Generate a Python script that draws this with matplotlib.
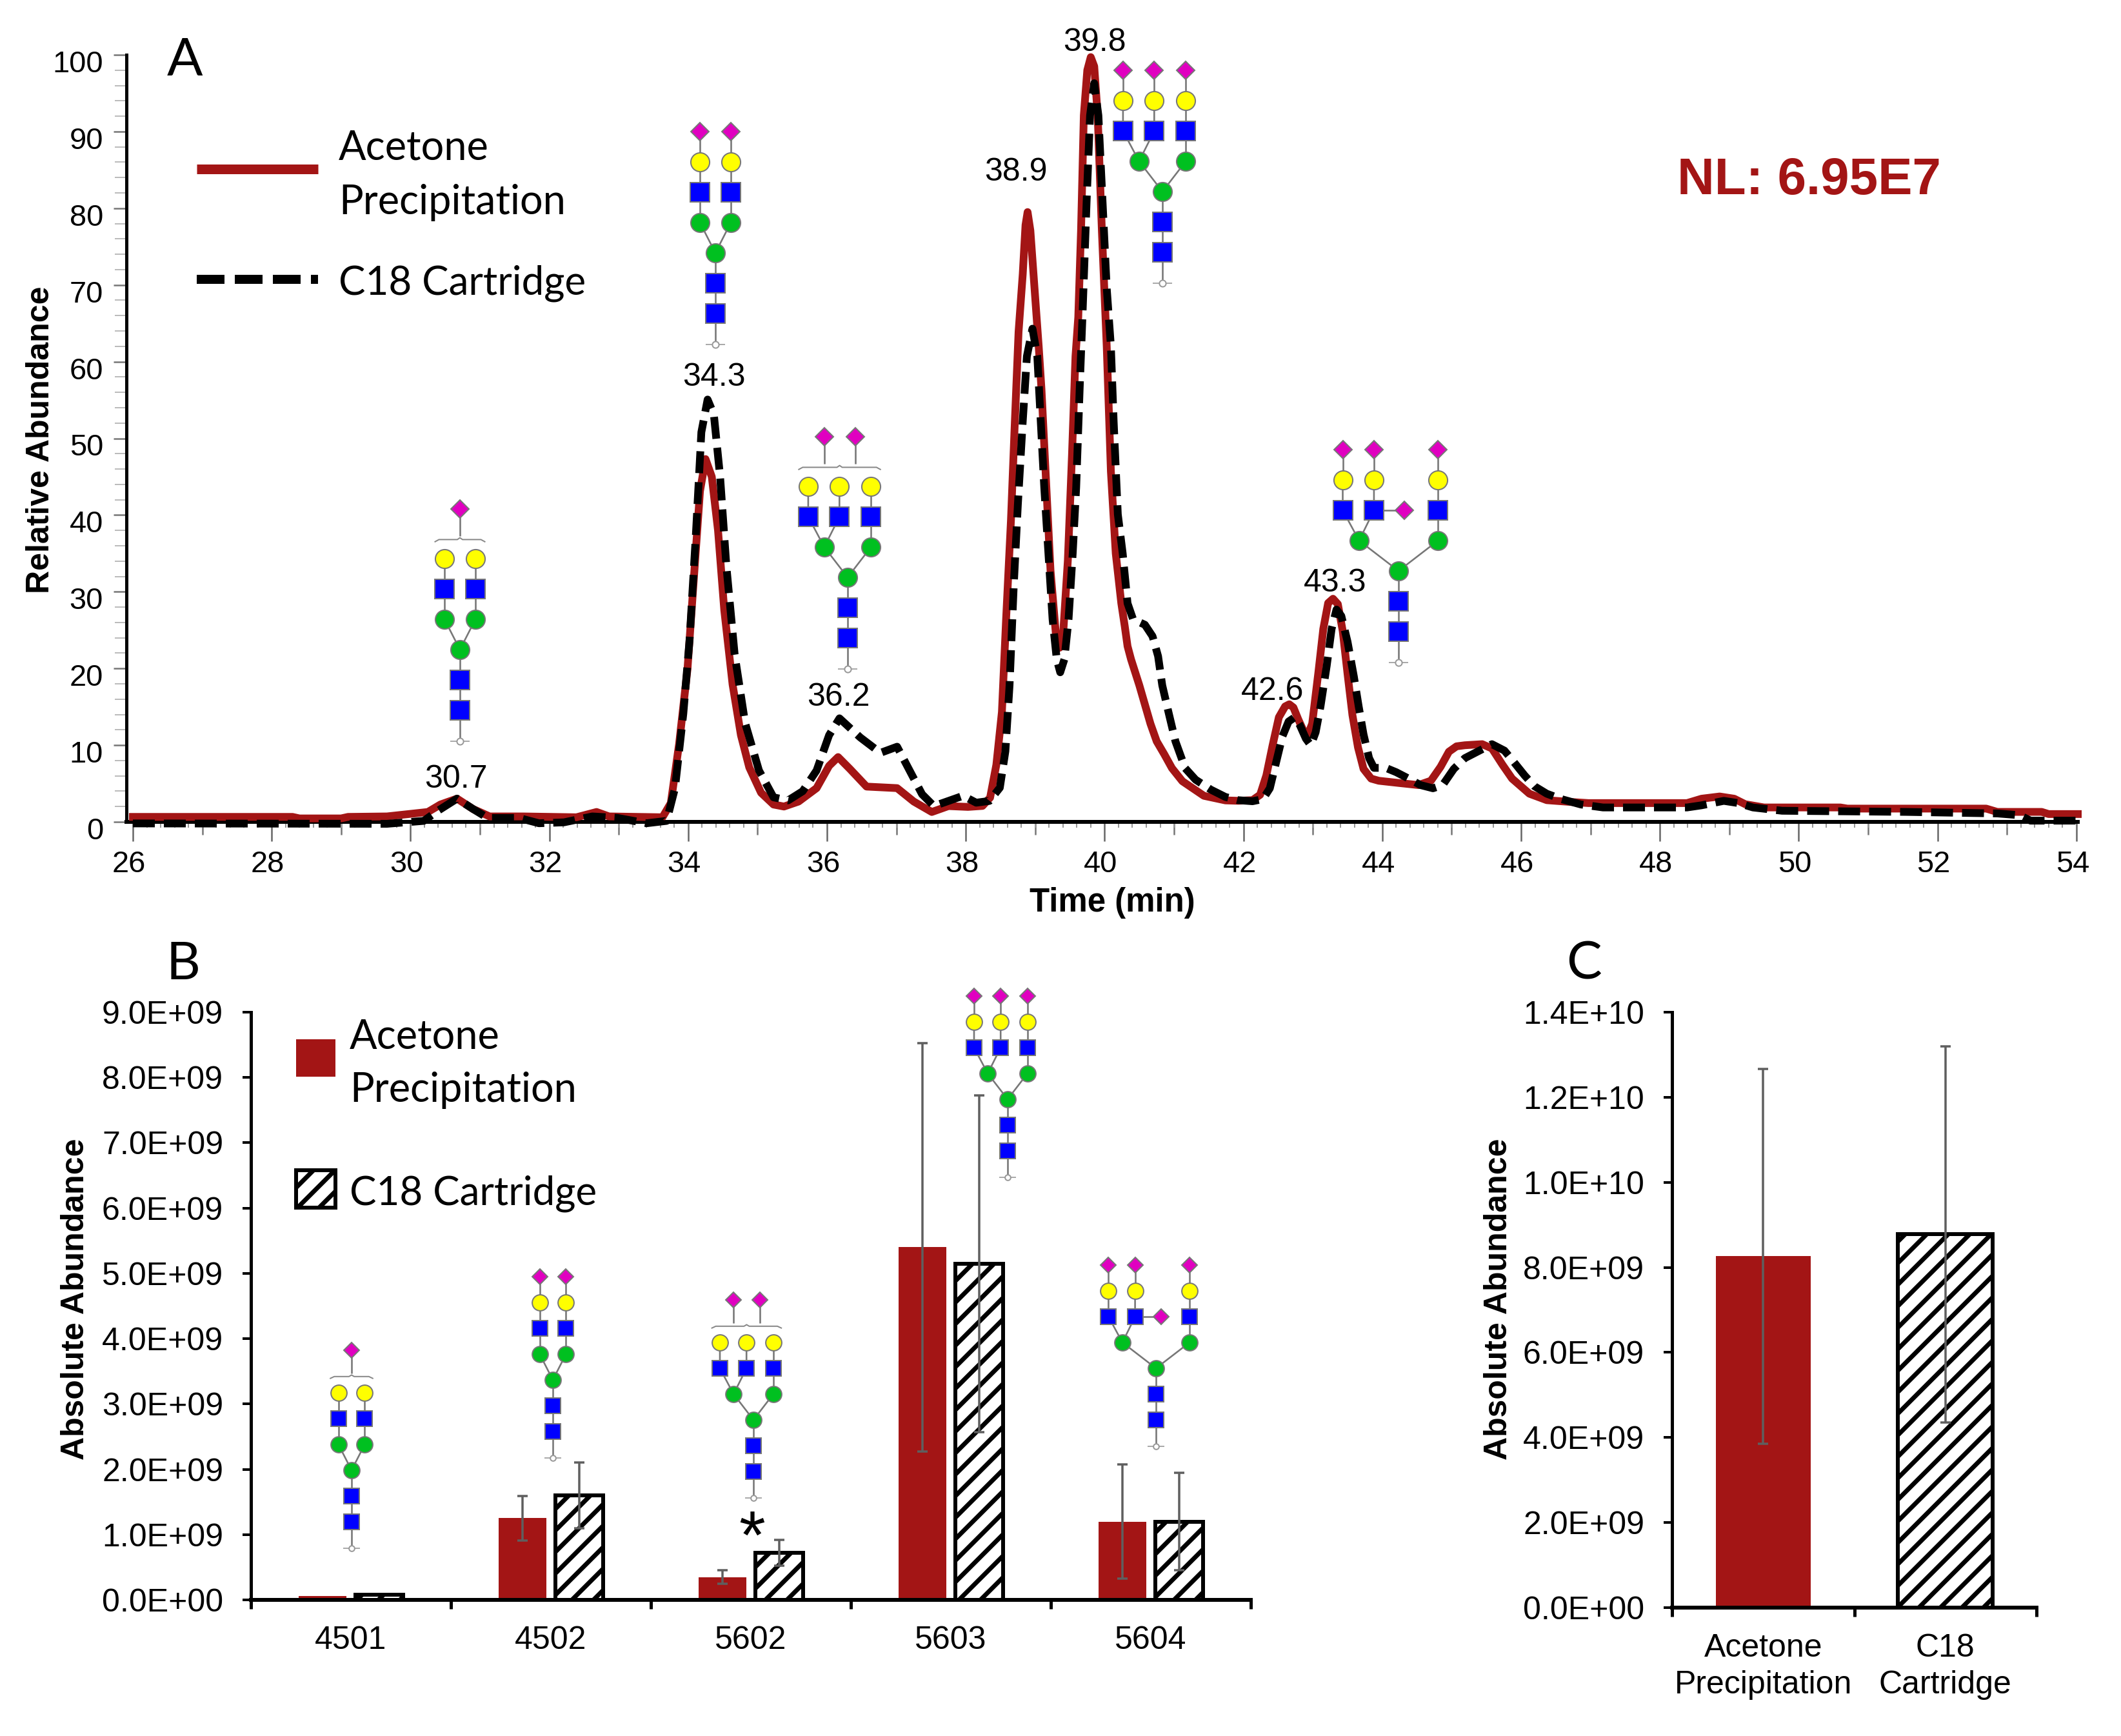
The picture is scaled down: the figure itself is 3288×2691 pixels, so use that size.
import matplotlib
matplotlib.use('Agg')
import matplotlib.pyplot as plt
import matplotlib.transforms as mtransforms
from matplotlib.patches import Rectangle

W, H = 3288, 2691
DPI = 200
RED = '#a31515'
ARIAL = 'Liberation Sans'
CALIBRI = 'Lato'

plt.rcParams['font.family'] = [ARIAL, 'DejaVu Sans']
plt.rcParams['lines.scale_dashes'] = False


def px(n):
    return n * 72 / DPI


plt.rcParams['hatch.linewidth'] = px(7)

# panel A
acetone_t = [26, 28.3, 28.4, 29, 29.1, 29.66, 30.25, 30.43, 30.67, 30.9, 31.14, 31.62, 32.39, 32.68, 32.86, 33.63,
             33.75, 33.87, 33.99, 34.08, 34.17, 34.25, 34.34, 34.43, 34.52, 34.64, 34.76, 34.88, 35.05, 35.23, 35.38,
             35.59, 35.85, 36.03, 36.16, 36.33, 36.57, 37.01, 37.25, 37.51, 37.75, 38.03, 38.24, 38.35, 38.44, 38.52,
             38.58, 38.65, 38.70, 38.76, 38.82, 38.86, 38.89, 38.93, 38.99, 39.05, 39.09, 39.16, 39.22, 39.30, 39.35,
             39.40, 39.47, 39.53, 39.58, 39.62, 39.66, 39.70, 39.75, 39.80, 39.85, 39.90, 39.96, 40.03, 40.09, 40.16,
             40.24, 40.29, 40.33, 40.38, 40.44, 40.50, 40.57, 40.66, 40.75, 40.86, 40.97, 41.12, 41.43, 41.74, 41.92,
             42.13, 42.24, 42.33, 42.42, 42.51,
             42.60, 42.66, 42.72, 42.79, 42.86, 42.93, 42.99, 43.08, 43.15, 43.22, 43.29, 43.36, 43.43, 43.50, 43.57,
             43.65, 43.73, 43.84, 43.95, 44.23, 44.52, 44.70, 44.84, 44.96, 45.07, 45.19, 45.44, 45.58, 45.73, 45.87,
             46.12, 46.37, 46.71, 46.97, 48.39, 48.6, 48.86, 49.07, 49.23, 49.5, 50.07, 50.6, 50.7, 52.7, 52.86, 53.5,
             53.6, 54.02]
acetone_y = [0.65, 0.65, 0.45, 0.45, 0.65, 0.71, 1.29, 2.26, 3.03, 1.68, 0.71, 0.71, 0.6, 1.29, 0.71, 0.6,
             2.45, 10.2, 19.9, 31.5, 43.1, 47.3, 45.0, 38.0, 27.6, 17.9, 11.3, 7.1, 3.8, 2.26, 2.0,
             2.65, 4.4, 7.3, 8.45, 6.9, 4.6, 4.4, 2.65, 1.29, 2.06, 1.95, 2.08, 3.16, 7.45, 14.33,
             26.36, 39.26, 50.75, 63.9, 71.4, 77.8, 79.5, 77.1, 69.6, 62.0, 56.4, 43.6, 32.8, 24.2, 22.7,
             24.2, 34.1, 47.9, 60.7, 65.8, 77.1, 92.1, 98.0, 99.7, 98.5, 92.1, 77.1, 62.0, 45.7, 35.0,
             28.5, 25.5, 22.9, 21.2, 19.5, 17.8, 15.6, 12.8, 10.5, 8.8, 7.0, 5.3, 3.4, 2.8, 2.75,
             2.83, 3.53, 6.06, 9.99, 13.64,
             15.05, 15.33, 14.91, 13.36, 11.96, 11.4, 12.8, 19.54, 25.16, 28.53, 29.09, 28.39, 24.88, 19.26, 13.92,
             9.71, 6.9, 5.64, 5.36, 5.08, 4.8, 5.36, 7.18, 9.15, 9.85, 9.99, 10.13, 9.57, 7.47, 5.64,
             3.67, 2.83, 2.6, 2.45, 2.45, 3.02, 3.31, 3.02, 2.3, 1.88, 1.88, 1.88, 1.73, 1.73, 1.3, 1.3,
             1.02, 1.02]
c18_t = [26, 29.66, 30.19, 30.4, 30.67, 30.9, 31.11, 31.56, 31.85, 32.21, 32.62, 32.98, 33.4, 33.69, 33.81, 33.93,
         34.02, 34.11, 34.19, 34.28, 34.37, 34.46, 34.55, 34.67, 34.82, 35.02, 35.23, 35.44, 35.65, 35.85, 36.03,
         36.18, 36.48, 36.77, 37.01, 37.19, 37.37, 37.54, 37.96, 38.15, 38.34, 38.49, 38.57, 38.63, 38.69, 38.75,
         38.82, 38.88, 38.96, 39.03, 39.08, 39.13, 39.19, 39.25, 39.31, 39.36, 39.42, 39.48, 39.54, 39.59, 39.64,
         39.68, 39.74, 39.79, 39.85, 39.91, 39.97, 40.03, 40.09, 40.13, 40.19, 40.26, 40.33, 40.41, 40.58, 40.69,
         40.77, 40.83, 40.92, 41.02, 41.16, 41.31, 41.53, 41.74, 41.92, 42.13, 42.28, 42.38, 42.47, 42.56, 42.65,
         42.74, 42.81, 42.90, 42.97, 43.04, 43.11, 43.20, 43.27, 43.34, 43.41, 43.50, 43.59, 43.66, 43.73, 43.81,
         43.88, 44.05, 44.20, 44.38, 44.55, 44.73, 44.87, 45.03, 45.19, 45.37, 45.58, 45.76, 45.90, 46.05, 46.19,
         46.37, 46.58, 46.86, 47.18, 48.39, 48.6, 48.92, 49.13, 49.34, 49.76, 51.55, 52.86, 53.18, 53.34, 54.02]
c18_y = [-0.2, -0.25, 0.13, 1.48, 3.03, 1.68, 0.52, 0.52, -0.18, -0.06, 0.71, 0.52, -0.18, 0.13, 4.4, 14.1,
         23.7, 37.3, 50.8, 55.06, 53.1, 45.0, 33.4, 21.8, 12.9, 6.7, 3.2, 2.8, 4.0, 6.7, 11.3,
         13.5, 11.0, 9.0, 9.8, 6.7, 3.6, 2.06, 3.4, 2.5, 2.73, 4.45, 9.2, 17.8, 30.7, 41.4,
         52.2, 60.7, 64.3, 60.7, 52.2, 43.6, 35.0, 26.4, 21.2, 19.5, 21.2, 26.4, 35.0, 43.6, 56.4,
         65.8, 80.8, 92.1, 96.3, 92.1, 80.8, 69.6, 62.0, 52.2, 40.1, 35.0, 28.5, 26.4, 25.7, 24.2,
         21.6, 17.8, 14.3, 10.5, 7.0, 5.5, 4.2, 3.25, 2.83, 2.69, 2.97, 4.38, 7.75, 11.12, 13.08,
         13.64, 12.66, 10.84, 9.99, 11.68, 15.05, 20.38, 25.16, 27.68, 26.84, 23.47, 18.98, 15.05, 11.4, 8.31,
         7.04, 7.04, 6.48, 5.64, 4.8, 4.38, 4.8, 6.9, 8.31, 9.15, 10.13, 9.29, 7.75, 6.06, 4.66,
         3.67, 2.97, 2.27, 1.88, 1.88, 2.16, 2.74, 2.45, 1.88, 1.45, 1.3, 1.1, 0.87, 0.16, 0.16]

# panel B
glycan_ids = ['4501', '4502', '5602', '5603', '5604']
acetone_abs = [0.06e9, 1.25e9, 0.35e9, 5.40e9, 1.20e9]
acetone_err = [0.0, 0.34e9, 0.10e9, 3.13e9, 0.87e9]
c18_abs = [0.08e9, 1.60e9, 0.72e9, 5.15e9, 1.20e9]
c18_err = [0.0, 0.50e9, 0.20e9, 2.58e9, 0.75e9]
b_ticks = [i * 1e9 for i in range(10)]
b_labels = ['0.0E+00', '1.0E+09', '2.0E+09', '3.0E+09', '4.0E+09', '5.0E+09', '6.0E+09', '7.0E+09', '8.0E+09',
            '9.0E+09']

# panel C
methods = ['Acetone\nPrecipitation', 'C18\nCartridge']
total_abs = [8.26e9, 8.78e9]
total_err = [4.40e9, 4.42e9]
c_ticks = [i * 2e9 for i in range(8)]
c_labels = ['0.0E+00', '2.0E+09', '4.0E+09', '6.0E+09', '8.0E+09', '1.0E+10', '1.2E+10', '1.4E+10']

fig = plt.figure(figsize=(W / DPI, H / DPI), dpi=DPI)


def axes_px(left, top, right, bottom):
    ax = fig.add_axes([left / W, 1 - bottom / H, (right - left) / W, (bottom - top) / H])
    ax.spines['top'].set_visible(False)
    ax.spines['right'].set_visible(False)
    ax.spines['left'].set_linewidth(px(5))
    ax.spines['bottom'].set_linewidth(px(6))
    return ax


# --- A ---
ax = axes_px(196, 85, 3221, 1274)
ax.set_xlim(26 - 10 / 107.6, 54.02)
ax.set_ylim(0, 100)
ax.plot(acetone_t, acetone_y, color=RED, lw=px(12), solid_joinstyle='round', clip_on=False, zorder=3)
ax.plot(c18_t, c18_y, color='black', lw=px(12), dashes=(px(34), px(14)), dash_capstyle='butt',
        clip_on=False, zorder=4)
ax.set_xticks(range(26, 55, 2))
ax.set_xticks([26 + i * 0.2 for i in range(141)], minor=True)
ax.set_yticks(range(0, 101, 10))
ax.set_yticks(range(0, 101, 2), minor=True)
ax.tick_params(axis='x', which='major', length=px(30), width=px(2.5), color='#666666', pad=px(14),
               labelsize=px(47))
ax.tick_params(axis='x', which='minor', length=px(9), width=px(2), color='#999999')
ax.tick_params(axis='y', which='major', length=px(20), width=px(2.5), color='#777777', pad=px(16),
               labelsize=px(47))
ax.tick_params(axis='y', which='minor', length=px(18), width=px(2), color='#bbbbbb')
ax.vlines(range(27, 54, 2), 0, -px(20) / 72 * DPI / 11.87, color='#777777', lw=px(2.5), clip_on=False, zorder=1)
for lab in ax.get_yticklabels():
    lab.set_transform(lab.get_transform() + mtransforms.ScaledTranslation(0, -10 / DPI, fig.dpi_scale_trans))
for lab in ax.get_xticklabels():
    lab.set_transform(lab.get_transform() + mtransforms.ScaledTranslation(-6 / DPI, 0, fig.dpi_scale_trans))


def style_bars(ax, ticks, labels, n):
    ax.set_xlim(0, n)
    ax.set_xticks(range(n + 1))
    ax.set_xticklabels([])
    ax.set_yticks(ticks)
    ax.set_yticklabels(labels)
    ax.set_ylim(ticks[0], ticks[-1])
    ax.tick_params(axis='x', which='major', length=px(14), width=px(5))
    ax.tick_params(axis='y', which='major', length=px(13), width=px(4), pad=px(30), labelsize=px(50))
    ax.tick_params(axis='x', which='minor', length=0, pad=px(40), labelsize=px(50))


BAR_ERR = dict(fmt='none', ecolor='#5f5f5f', elinewidth=px(3.5), capsize=px(8), capthick=px(3.5), zorder=5)
HATCH = dict(facecolor='white', edgecolor='black', hatch='//', linewidth=px(6))

# --- B ---
ax_b = axes_px(389, 1569, 1939, 2480)
pos = [i + 0.5 for i in range(len(glycan_ids))]
left_pos = [p - 0.142 for p in pos]
right_pos = [p + 0.142 for p in pos]
ax_b.bar(left_pos, acetone_abs, 0.24, color=RED)
ax_b.bar(right_pos, c18_abs, 0.24, **HATCH)
ax_b.errorbar(left_pos[1:], acetone_abs[1:], yerr=acetone_err[1:], **BAR_ERR)
ax_b.errorbar(right_pos[1:], c18_abs[1:], yerr=c18_err[1:], **BAR_ERR)
style_bars(ax_b, b_ticks, b_labels, len(glycan_ids))
ax_b.set_xticks(pos, minor=True)
ax_b.set_xticklabels(glycan_ids, minor=True)

# --- C ---
ax_c = axes_px(2592, 1569, 3157, 2492)
pos_c = [0.5, 1.5]
ax_c.bar(pos_c[0], total_abs[0], 0.52, color=RED)
ax_c.bar(pos_c[1], total_abs[1], 0.52, **HATCH)
ax_c.errorbar(pos_c, total_abs, yerr=total_err, **BAR_ERR)
style_bars(ax_c, c_ticks, c_labels, 2)
ax_c.set_xticks(pos_c, minor=True)
ax_c.set_xticklabels(methods, minor=True, linespacing=1.3)

# overlay in image pixels for the annotations and the glycan cartoons
over = fig.add_axes([0, 0, 1, 1], zorder=10)
over.set_xlim(0, W)
over.set_ylim(H, 0)
over.axis('off')
over.patch.set_alpha(0)


def label(x, y, s, size, font=ARIAL, **kw):
    over.text(x, y + 4, s, fontsize=px(size), family=font, ha=kw.pop('ha', 'center'), va='center', **kw)


def glycan(cx, cy, u, gal_x, man_x, sia_x, bracket=False, mid_sia=None):
    edge = dict(markeredgecolor='#777777', markeredgewidth=px(2), linestyle='none', zorder=3)
    s = 0.62 * u
    line = dict(color='#777777', lw=px(2.6), zorder=1, solid_capstyle='butt')

    def X(v):
        return cx + v * u

    def Y(v):
        return cy + v * u

    sia_row = -4.64 if bracket else -4
    over.plot([X(0), X(0)], [Y(0), Y(3)], **line)
    for m in man_x:
        over.plot([X(m), X(0)], [Y(-1), Y(0)], **line)
    for g in gal_x:
        m = min(man_x, key=lambda v: abs(v - g))
        over.plot([X(g), X(g), X(m)], [Y(-3), Y(-2), Y(-1)], **line)
    for a in sia_x:
        if bracket:
            over.plot([X(a), X(a)], [Y(sia_row), Y(-3.75)], **line)
        else:
            over.plot([X(a), X(a)], [Y(sia_row), Y(-3)], **line)
    if bracket:
        lo, hi = X(min(gal_x)) - s / 2, X(max(gal_x)) + s / 2
        mid = (lo + hi) / 2
        over.plot([lo, lo + 6, mid - 4, mid, mid + 4, hi - 6, hi],
                  [Y(-3.56), Y(-3.63), Y(-3.63), Y(-3.69), Y(-3.63), Y(-3.63), Y(-3.56)],
                  color='#888888', lw=px(2), zorder=1)
    if mid_sia is not None:
        over.plot([X(min(gal_x, key=lambda v: abs(v - mid_sia))), X(mid_sia)], [Y(-2), Y(-2)], **line)
        over.plot(X(mid_sia), Y(-2), 'D', ms=px(s * 0.68), color='#e000c0', **edge)

    over.plot([X(a) for a in sia_x], [Y(sia_row)] * len(sia_x), 'D', ms=px(s * 0.7), color='#e000c0', **edge)
    over.plot([X(g) for g in gal_x], [Y(-3)] * len(gal_x), 'o', ms=px(s), color='#ffff00', **edge)
    over.plot([X(g) for g in gal_x], [Y(-2)] * len(gal_x), 's', ms=px(s), color='#0000ff', **edge)
    over.plot([X(m) for m in man_x], [Y(-1)] * len(man_x), 'o', ms=px(s), color='#00c020', **edge)
    over.plot([X(0)], [Y(0)], 'o', ms=px(s), color='#00c020', **edge)
    over.plot([X(0), X(0)], [Y(1), Y(2)], 's', ms=px(s), color='#0000ff', **edge)
    over.plot([X(-0.3), X(0.3)], [Y(3.03), Y(3.03)], color='#aaaaaa', lw=px(2), zorder=1)
    over.plot([X(0)], [Y(3.03)], 'o', ms=px(s * 0.35), color='white', markeredgecolor='#999999',
              markeredgewidth=px(2), zorder=3)


BI_GAL = [-0.51, 0.51]
TRI_GAL = [-1.3, -0.27, 0.77]
TRI_MAN = [-0.77, 0.77]
TETRA_GAL = [-1.84, -0.81, 1.3]
TETRA_MAN = [-1.3, 1.3]

# glycans in A
glycan(713, 1007, 47, BI_GAL, BI_GAL, [0], bracket=True)
glycan(1109, 392, 47, BI_GAL, BI_GAL, BI_GAL)
glycan(1314, 895, 47, TRI_GAL, TRI_MAN, [-0.77, 0.25], bracket=True)
glycan(1802, 297, 47, TRI_GAL, TRI_MAN, TRI_GAL)
glycan(2168, 885, 47, TETRA_GAL, TETRA_MAN, TETRA_GAL, mid_sia=0.2)

# glycans in B
glycan(545, 2279, 40, BI_GAL, BI_GAL, [0], bracket=True)
glycan(857, 2139, 40, BI_GAL, BI_GAL, BI_GAL)
glycan(1168, 2201, 40, TRI_GAL, TRI_MAN, [-0.77, 0.25], bracket=True)
glycan(1562, 1704, 40, TRI_GAL, TRI_MAN, TRI_GAL)
glycan(1792, 2121, 40, TETRA_GAL, TETRA_MAN, TETRA_GAL, mid_sia=0.2)

# panel letters
label(286, 90, 'A', 82, CALIBRI)
label(284, 1491, 'B', 82, CALIBRI)
label(2455, 1491, 'C', 82, CALIBRI)

# axis titles
label(1724, 1395, 'Time (min)', 51, fontweight='bold')
label(63, 678, 'Relative Abundance', 50, rotation=90, fontweight='bold')
label(117, 2010, 'Absolute Abundance', 50, rotation=90, fontweight='bold')
label(2323, 2010, 'Absolute Abundance', 50, rotation=90, fontweight='bold')
label(2804, 277, 'NL: 6.95E7', 80, color=RED, fontweight='bold')

# peak labels
peak_labels = ['30.7', '34.3', '36.2', '38.9', '39.8', '42.6', '43.3']
peak_xy = [(707, 1204), (1107, 581), (1300, 1077), (1575, 263), (1697, 62), (1973, 1068), (2070, 900)]
for s, (x, y) in zip(peak_labels, peak_xy):
    label(x, y, s, 50)

# legend A
over.plot([305, 493], [262, 262], color=RED, lw=px(15), solid_capstyle='butt')
over.plot([305, 493], [433, 433], color='black', lw=px(14), dashes=(px(43), px(16)), dash_capstyle='butt')
label(525, 225, 'Acetone', 63, CALIBRI, ha='left')
label(525, 310, 'Precipitation', 63, CALIBRI, ha='left')
label(525, 435, 'C18 Cartridge', 62, CALIBRI, ha='left')

# legend B
over.add_patch(Rectangle((459, 1611), 61, 58, facecolor=RED, edgecolor='none'))
over.add_patch(Rectangle((459, 1814), 61, 58, **HATCH))
label(542, 1603, 'Acetone', 63, CALIBRI, ha='left')
label(542, 1686, 'Precipitation', 63, CALIBRI, ha='left')
label(542, 1846, 'C18 Cartridge', 62, CALIBRI, ha='left')

label(1166, 2384, '*', 105)

fig.savefig('out.png', dpi=DPI)
